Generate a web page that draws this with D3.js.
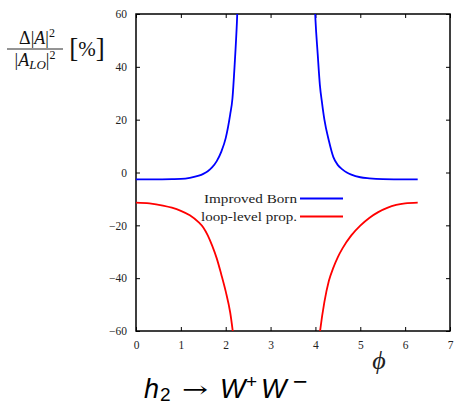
<!DOCTYPE html>
<html>
<head>
<meta charset="utf-8">
<script src="https://cdn.jsdelivr.net/npm/d3@7"></script>
<style>
  body { margin: 0; background: #fff; }
  svg { display: block; }
</style>
</head>
<body>
<div id="chart"></div>
<script>
// values (phi, relative change in %)
const bornLeftPhi = [0, 0.4, 0.8, 1.0, 1.2, 1.4, 1.5, 1.6, 1.7, 1.8, 1.9, 2.0, 2.1, 2.15, 2.2, 2.25, 2.3]
const bornLeftVal = [-2.6, -2.6, -2.5, -2.4, -2.0, -1.2, -0.5, 0.5, 2.0, 4.3, 7.8, 13, 22, 28, 41, 57, 80]
const bornRightPhi = [3.95, 4.0, 4.05, 4.1, 4.15, 4.2, 4.3, 4.4, 4.5, 4.6, 4.7, 4.8, 5.0, 5.2, 5.5, 6.0, 6.28]
const bornRightVal = [80, 58, 45, 33, 26, 20, 12, 5.8, 2.8, 1.2, 0.0, -0.8, -1.8, -2.2, -2.5, -2.6, -2.6]

const loopLeftPhi = [0, 0.3, 0.6, 0.8, 1.0, 1.2, 1.4, 1.5, 1.6, 1.7, 1.8, 1.9, 2.0, 2.1, 2.2]
const loopLeftVal = [-11.4, -11.7, -12.5, -13.3, -14.5, -16.2, -18.9, -20.8, -23.8, -27.8, -32.5, -38.5, -45, -53, -66]
const loopRightPhi = [4.05, 4.1, 4.2, 4.3, 4.4, 4.5, 4.6, 4.8, 5.0, 5.2, 5.4, 5.6, 5.8, 6.0, 6.28]
const loopRightVal = [-68, -60.5, -49, -41, -36, -32, -28.8, -23.8, -20.1, -17.2, -15.0, -13.4, -12.3, -11.7, -11.4]

const xTicks = [0, 1, 2, 3, 4, 5, 6, 7]
const yTicks = [-60, -40, -20, 0, 20, 40, 60]
const legendLabels = ['Improved Born', 'loop-level prop.']

const width = 456
const height = 405
const margin = { top: 14, left: 136, right: 6, bottom: 74 }
const serif = '"Liberation Serif", "DejaVu Serif", serif'

const svg = d3.select('#chart')
  .append('svg')
  .attr('width', width)
  .attr('height', height)

const x = d3.scaleLinear().domain([0, 7]).range([margin.left, width - margin.right])
const y = d3.scaleLinear().domain([-60, 60]).range([height - margin.bottom, margin.top])

svg.append('clipPath')
  .attr('id', 'plot-clip')
  .append('rect')
  .attr('x', x(0))
  .attr('y', y(60))
  .attr('width', x(7) - x(0))
  .attr('height', y(-60) - y(60))

// axes, ticks inside on all sides
const tickLen = 4
function styleAxis(g) {
  g.attr('font-family', serif).attr('font-size', 11.5)
  g.select('.domain').remove()
  g.selectAll('.tick line').attr('stroke', '#000').attr('stroke-width', 1)
  g.selectAll('.tick text').attr('fill', '#222').attr('font-family', serif)
}

svg.append('g')
  .attr('transform', `translate(0,${y(-60)})`)
  .call(d3.axisBottom(x).tickValues(xTicks).tickSize(-tickLen).tickPadding(10).tickFormat(d3.format('d')))
  .call(styleAxis)

svg.append('g')
  .attr('transform', `translate(0,${y(60)})`)
  .call(d3.axisTop(x).tickValues(xTicks).tickSize(-tickLen).tickFormat(''))
  .call(styleAxis)

svg.append('g')
  .attr('transform', `translate(${x(0)},0)`)
  .call(d3.axisLeft(y).tickValues(yTicks).tickSize(-tickLen).tickPadding(9)
    .tickFormat(d => (d < 0 ? '\u2212' + Math.abs(d) : d)))
  .call(styleAxis)

svg.append('g')
  .attr('transform', `translate(${x(7)},0)`)
  .call(d3.axisRight(y).tickValues(yTicks).tickSize(-tickLen).tickFormat(''))
  .call(styleAxis)

svg.append('rect')
  .attr('x', x(0))
  .attr('y', y(60))
  .attr('width', x(7) - x(0))
  .attr('height', y(-60) - y(60))
  .attr('fill', 'none')
  .attr('stroke', '#000')
  .attr('stroke-width', 1.5)

// curves
const line = d3.line()
  .x(d => x(d[0]))
  .y(d => y(d[1]))
  .curve(d3.curveMonotoneX)

const segments = [
  { phi: bornLeftPhi, val: bornLeftVal, color: '#0000ff' },
  { phi: bornRightPhi, val: bornRightVal, color: '#0000ff' },
  { phi: loopLeftPhi, val: loopLeftVal, color: '#ff0000' },
  { phi: loopRightPhi, val: loopRightVal, color: '#ff0000' }
]

svg.append('g')
  .attr('clip-path', 'url(#plot-clip)')
  .selectAll('path')
  .data(segments)
  .enter()
  .append('path')
  .attr('d', d => line(d.phi.map((p, i) => [p, d.val[i]])))
  .attr('fill', 'none')
  .attr('stroke', d => d.color)
  .attr('stroke-width', 1.8)

// legend
const legend = svg.append('g')
  .selectAll('g')
  .data(legendLabels)
  .enter()
  .append('g')
  .attr('transform', (d, i) => `translate(0,${198.5 + i * 18})`)

legend.append('text')
  .text(d => d)
  .attr('x', 297)
  .attr('y', 4)
  .attr('text-anchor', 'end')
  .attr('font-family', serif)
  .attr('font-size', 13)
  .attr('textLength', (d, i) => (i === 0 ? 93 : 96))
  .attr('lengthAdjust', 'spacingAndGlyphs')
  .attr('fill', '#222')

legend.append('line')
  .attr('x1', 300)
  .attr('x2', 343)
  .attr('stroke', (d, i) => (i === 0 ? '#0000ff' : '#ff0000'))
  .attr('stroke-width', 1.8)

// y label: fraction
const ylab = svg.append('g')
  .attr('font-family', serif)
  .attr('font-size', 18)
  .attr('fill', '#111')

const num = ylab.append('text').attr('x', 37).attr('y', 44).attr('text-anchor', 'middle')
num.append('tspan').text('\u0394|')
num.append('tspan').text('A').attr('font-style', 'italic')
num.append('tspan').text('|')
num.append('tspan').text('2').attr('font-size', 12).attr('dy', -7)

ylab.append('line')
  .attr('x1', 7).attr('x2', 63)
  .attr('y1', 49).attr('y2', 49)
  .attr('stroke', '#111').attr('stroke-width', 0.9)

const den = ylab.append('text').attr('x', 35).attr('y', 66).attr('text-anchor', 'middle')
den.append('tspan').text('|')
den.append('tspan').text('A').attr('font-style', 'italic')
den.append('tspan').text('LO').attr('font-style', 'italic').attr('font-size', 13).attr('dy', 3)
den.append('tspan').text('|').attr('dy', -3)
den.append('tspan').text('2').attr('font-size', 12).attr('dy', -7)

const pct = ylab.append('text')
  .attr('x', 87)
  .attr('y', 57)
  .attr('text-anchor', 'middle')
pct.append('tspan').text('[').attr('font-size', 27).attr('font-weight', 100)
pct.append('tspan').text('%').attr('font-size', 21).attr('dy', -1)
pct.append('tspan').text(']').attr('font-size', 27).attr('font-weight', 100).attr('dy', 1)

// x label
svg.append('text')
  .attr('x', 379)
  .attr('y', 369)
  .attr('text-anchor', 'middle')
  .attr('font-family', serif)
  .attr('font-style', 'italic')
  .attr('font-size', 26)
  .attr('fill', '#222')
  .text('\u03d5')

// title: h2 -> W+W-
const title = svg.append('text')
  .attr('y', 398)
  .attr('font-family', '"Liberation Sans", Arial, sans-serif')
  .attr('font-size', 27)
  .attr('fill', '#000')
title.append('tspan').text('h').attr('x', 144).attr('font-style', 'italic')
title.append('tspan').text('2').attr('x', 160).attr('font-size', 19).attr('dy', 3)
title.append('tspan').text('W').attr('x', 220).attr('dy', -3).attr('font-style', 'italic')
title.append('tspan').text('+').attr('x', 246).attr('font-size', 19).attr('dy', -10)
title.append('tspan').text('W').attr('x', 261).attr('font-style', 'italic').attr('dy', 10)
title.append('tspan').text('\u2212').attr('x', 293).attr('font-size', 25).attr('dy', -8)

svg.append('text')
  .attr('x', 182)
  .attr('y', 397)
  .attr('font-family', '"DejaVu Serif", serif')
  .attr('font-size', 22)
  .attr('textLength', 26)
  .attr('lengthAdjust', 'spacingAndGlyphs')
  .attr('fill', '#000')
  .text('\u2192')
</script>
</body>
</html>
